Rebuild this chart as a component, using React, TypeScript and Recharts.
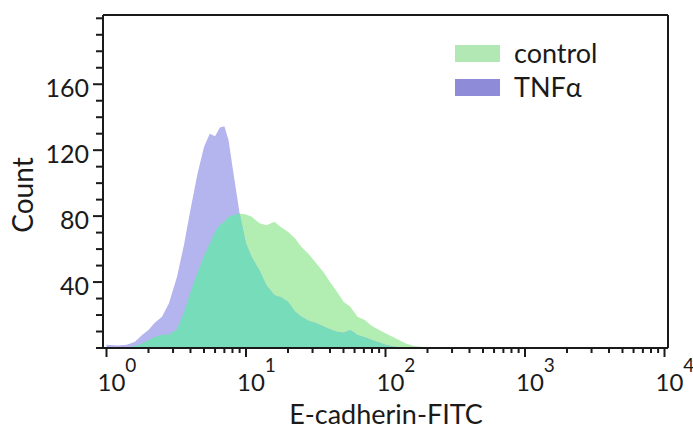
import { AreaChart, Area, XAxis, YAxis, ReferenceLine, Legend } from 'recharts'

// E-cadherin-FITC intensity (log scale) and cell counts
const intensity = [1, 1.2, 1.4, 1.6, 1.8, 2, 2.2, 2.5, 2.8, 3.2, 3.6, 4, 4.5, 5, 5.5, 6, 6.5, 7, 7.5, 8, 9, 10, 11, 12.5, 14, 16, 18, 20, 22.5, 25, 28, 32, 36, 40, 45, 50, 56, 63, 71, 80, 90, 100, 112, 125, 140, 160, 180, 200, 225]
const controlCounts = [0, 0, 0.3, 1.2, 2.8, 4.8, 6.5, 8, 8, 11.3, 22, 34, 46, 56, 63.4, 70.5, 74.7, 76.8, 79.4, 80.6, 81.6, 81, 79.6, 75.6, 74.5, 76.6, 72.9, 70.5, 66.4, 61.3, 57.2, 51.2, 46, 40, 34, 28, 25, 19, 17, 13.3, 10.9, 8.9, 6.9, 4.9, 2.8, 1.2, 0.8, 0.5, 0]
const tnfCounts = [2, 1.5, 2, 3.8, 7.9, 10.9, 15, 19, 27, 43, 63, 84, 106, 122, 130, 128.5, 133.7, 134.5, 126, 110, 81.6, 63.4, 55, 47, 38, 32, 30.7, 28, 22, 19, 16.6, 15, 13, 11.3, 9.9, 9.3, 10.9, 7.9, 6.5, 4.9, 3.4, 2, 1, 0.5, 0, 0, 0, 0, 0]

const xTicks = [1, 2, 3, 4, 5, 6, 7, 8, 9, 10, 20, 30, 40, 50, 60, 70, 80, 90, 100, 200, 300, 400, 500, 600, 700, 800, 900, 1000, 2000, 3000, 4000, 5000, 6000, 7000, 8000, 9000, 10000]
const xMajor = [1, 10, 100, 1000, 10000]
const xExponents = ['0', '1', '2', '3', '4']
const yTicks = [0, 10, 20, 30, 40, 50, 60, 70, 80, 90, 100, 110, 120, 130, 140, 150, 160, 170, 180, 190, 200]
const yLabels = [40, 80, 120, 160]

const X_MIN = 0.944
const X_MAX = 10595
const Y_MAX = 202

const INK = '#1a1a1a'
const FONT = 'Lato, "Open Sans", sans-serif'

const rows = intensity.map((v, i) => ({
  v,
  control: controlCounts[i],
  tnf: tnfCounts[i],
  both: Math.min(controlCounts[i], tnfCounts[i])
}))

const XTick = ({ x, y, payload }: any) => {
  const idx = xMajor.indexOf(payload.value)
  const major = idx >= 0
  return (
    <g>
      <line x1={x} y1={y} x2={x} y2={y + (major ? 9 : 5)} stroke={INK} strokeWidth={2} />
      {major && (
        <text x={x - 9} y={y + 43} fontSize={24} fill={INK} fontFamily={FONT}>
          10
          <tspan dy={-19} fontSize={19}>{xExponents[idx]}</tspan>
        </text>
      )}
    </g>
  )
}

const YTick = ({ x, y, payload }: any) => {
  const major = yLabels.includes(payload.value)
  return (
    <g>
      <line x1={x - (major ? 10 : 7)} y1={y} x2={x} y2={y} stroke={INK} strokeWidth={2} />
      {major && (
        <text x={x - 14} y={y + 13} textAnchor="end" fontSize={25} fill={INK} fontFamily={FONT}>
          {payload.value}
        </text>
      )}
    </g>
  )
}

const legendItems = [
  { name: 'control', color: '#b2e8b4' },
  { name: 'TNF\u03b1', color: '#8e8cd8' }
]

const LegendBox = () => (
  <div style={{ fontFamily: FONT, fontSize: 27, color: INK }}>
    {legendItems.map((item) => (
      <div key={item.name} style={{ display: 'flex', alignItems: 'center', height: 34 }}>
        <div style={{ width: 45, height: 17, background: item.color, marginRight: 14 }} />
        <span style={{ lineHeight: '34px' }}>{item.name}</span>
      </div>
    ))}
  </div>
)

const App = () => {
  return (
    <div style={{ position: 'absolute', left: 0, top: 0, width: 693, height: 435, background: '#fff' }}>
      <AreaChart width={693} height={435} data={rows} margin={{ top: 15, right: 25, bottom: 0, left: 0 }}>
        <XAxis
          dataKey="v"
          type="number"
          scale="log"
          domain={[X_MIN, X_MAX]}
          allowDataOverflow
          ticks={xTicks}
          interval={0}
          height={87}
          tickSize={0}
          tickMargin={0}
          tick={<XTick />}
          axisLine={{ stroke: INK, strokeWidth: 2 }}
        />
        <YAxis
          type="number"
          domain={[0, Y_MAX]}
          allowDataOverflow
          ticks={yTicks}
          interval={0}
          width={103}
          tickSize={0}
          tickMargin={0}
          tick={<YTick />}
          axisLine={{ stroke: INK, strokeWidth: 2 }}
        />
        <Area type="linear" dataKey="control" stroke="none" fill="#b2edb2" fillOpacity={1} isAnimationActive={false} />
        <Area type="linear" dataKey="tnf" stroke="none" fill="#b4b4ee" fillOpacity={1} isAnimationActive={false} />
        <Area type="linear" dataKey="both" stroke="none" fill="#76dcba" fillOpacity={1} isAnimationActive={false} />
        <ReferenceLine y={Y_MAX} stroke={INK} strokeWidth={2} />
        <ReferenceLine x={X_MAX} stroke={INK} strokeWidth={2} />
        <Legend
          layout="horizontal"
          verticalAlign="middle"
          content={<LegendBox />}
          wrapperStyle={{ position: 'absolute', left: 455, top: 36, width: 170 }}
        />
        <text x={33} y={195} transform="rotate(-90 33 195)" textAnchor="middle" fontSize={28} fill={INK} fontFamily={FONT}>
          Count
        </text>
        <text x={386} y={424} textAnchor="middle" fontSize={27} fill={INK} fontFamily={FONT}>
          E-cadherin-FITC
        </text>
      </AreaChart>
    </div>
  )
}

export default App
